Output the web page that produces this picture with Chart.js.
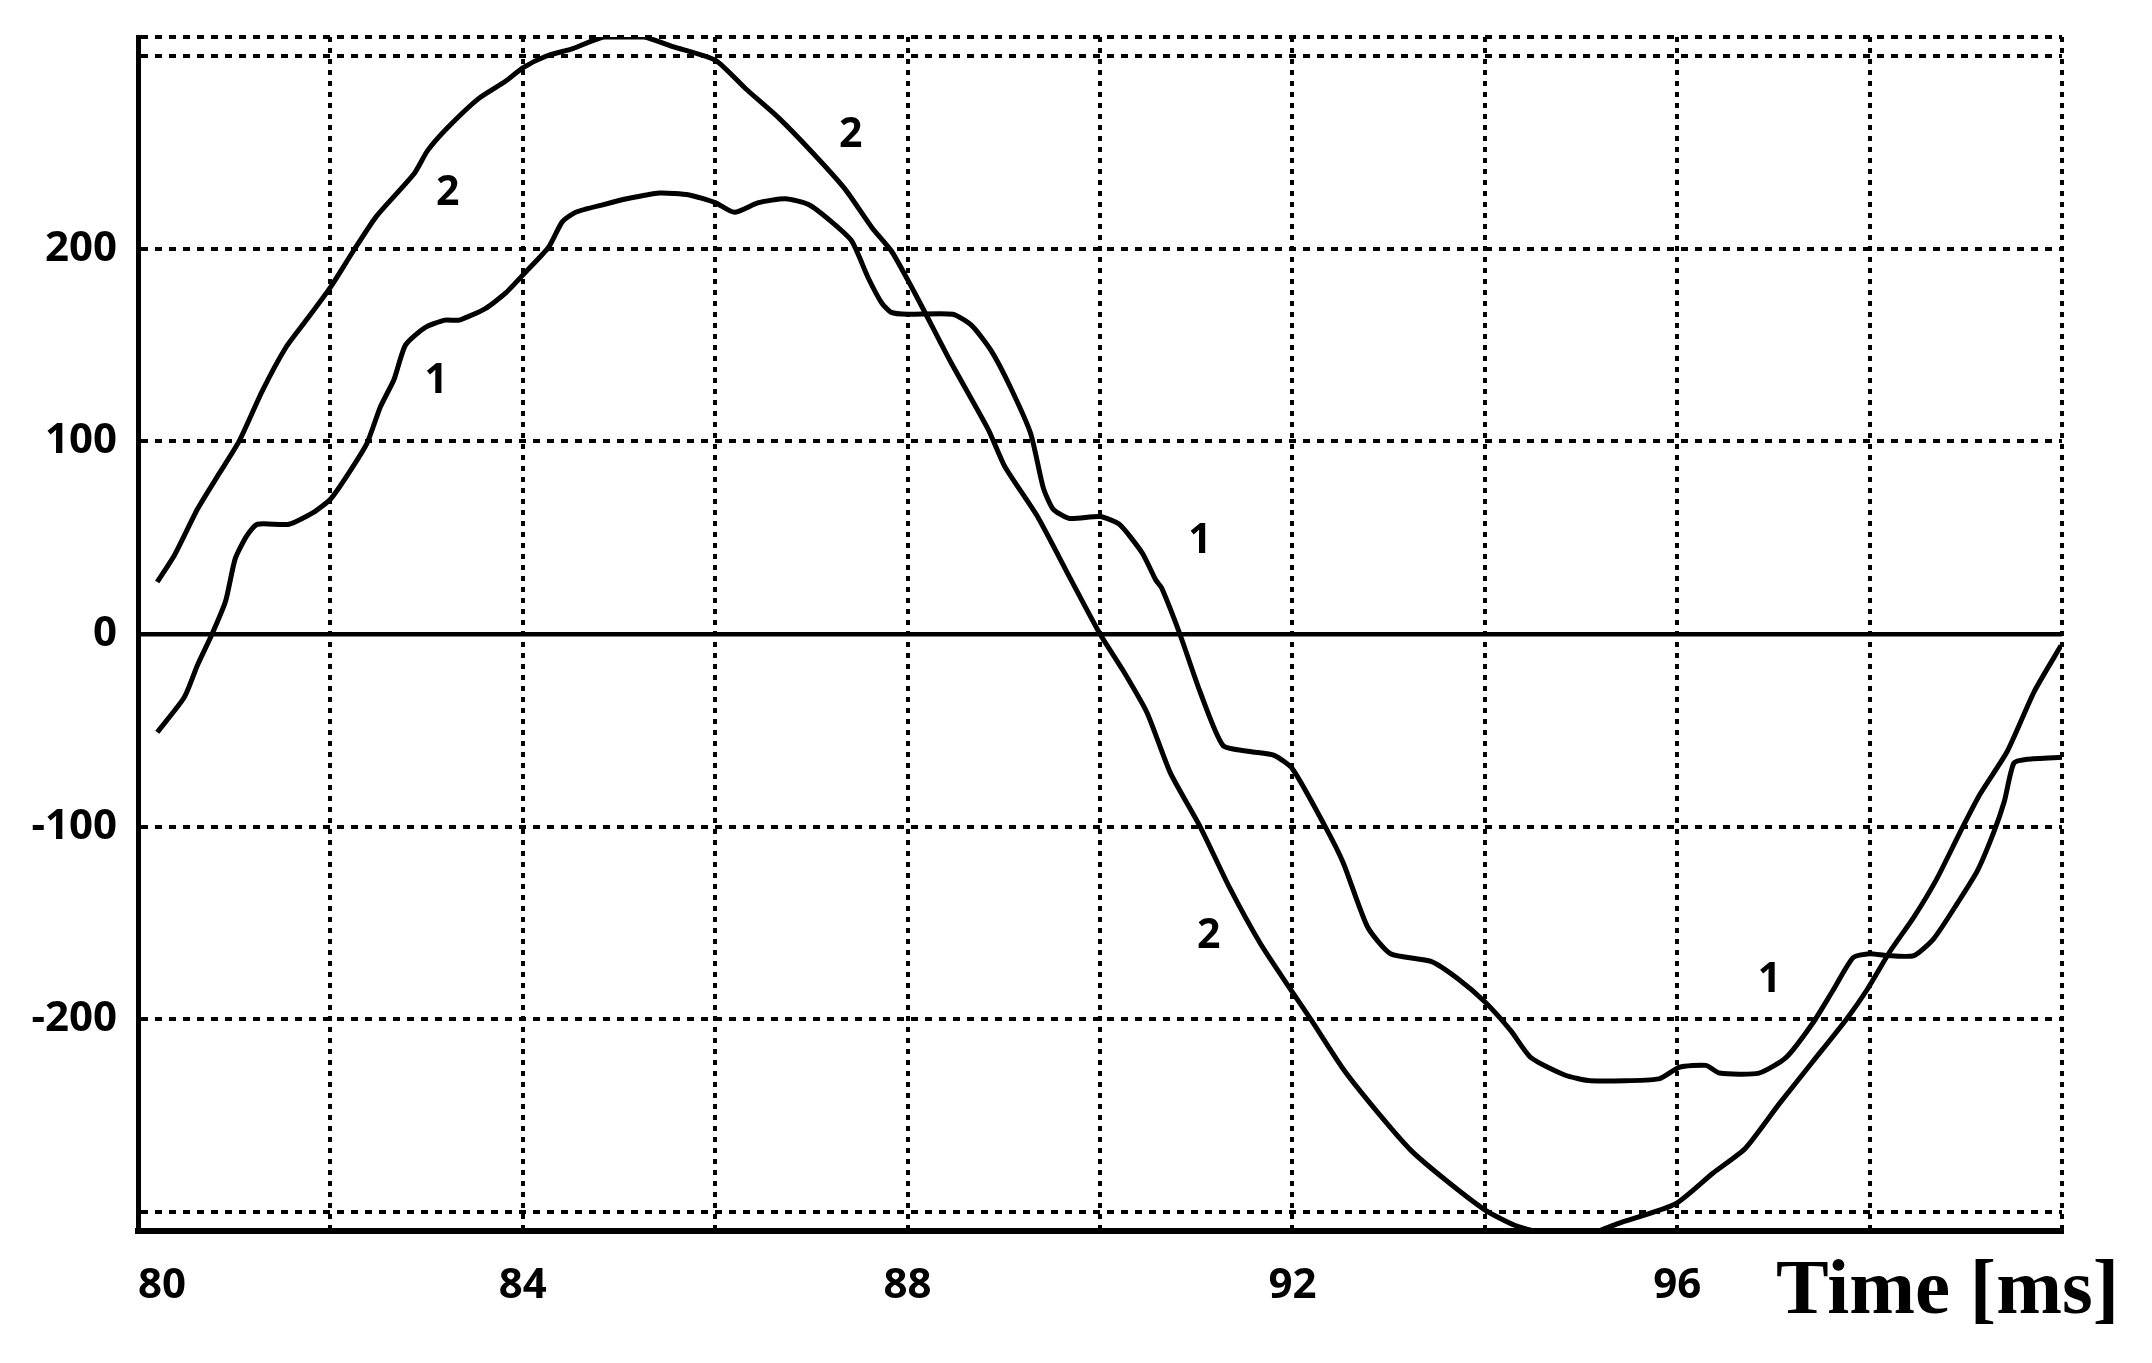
<!DOCTYPE html>
<html>
<head>
<meta charset="utf-8">
<title>Time [ms]</title>
<script src="https://cdn.jsdelivr.net/npm/chart.js@4.4.1/dist/chart.umd.min.js"></script>
<style>
  body { margin: 0; background: #fff; }
  #wrap { width: 2152px; height: 1363px; }
</style>
</head>
<body>
<div id="wrap"><canvas id="canvas_wave" width="2152" height="1363"></canvas></div>
<script>
// curve 1 - time [ms] / value
var time1 = [80.20, 80.48, 80.62, 80.77, 80.91, 81.01, 81.13, 81.24, 81.57, 81.82, 82.00, 82.17, 82.38, 82.52, 82.66, 82.78, 82.98, 83.19, 83.34, 83.61, 83.82,
    84.03, 84.27, 84.41, 84.55, 84.84, 85.08, 85.42, 85.73, 86.00, 86.20, 86.45, 86.73, 86.97, 87.21, 87.42, 87.59, 87.73, 87.83, 88.00, 88.47, 88.67,
    88.87, 89.07, 89.28, 89.41, 89.51, 89.68, 90.00, 90.20, 90.44, 90.58, 90.64, 90.83, 91.04, 91.28, 91.56, 91.81, 92.00, 92.33, 92.53, 92.78, 93.02,
    93.44, 93.72, 94.00, 94.27, 94.48, 94.83, 95.10, 95.81, 96.02, 96.30, 96.44, 96.85, 97.13, 97.41, 97.62, 97.83, 98.00, 98.18, 98.46, 98.67, 98.91,
    99.12, 99.29, 99.40, 99.50, 99.64, 100.00];
var value1 = [-51, -33, -16, 0, 17, 39, 51, 57, 57, 63, 70, 82, 99, 118, 132, 150, 159, 163, 163, 169, 177,
    188, 201, 214, 219, 223, 226, 229, 228, 224, 219, 224, 226, 223, 214, 204, 185, 172, 167, 166, 166, 160,
    147, 128, 104, 76, 65, 60, 61, 57, 42, 28, 24, 0, -30, -58, -61, -63, -70, -99, -119, -152, -166,
    -170, -179, -191, -206, -220, -229, -232, -231, -225, -224, -228, -228, -220, -202, -185, -168, -166, -167, -167, -158, -140,
    -123, -103, -87, -67, -65, -64];

// curve 2
var time2 = [80.20, 80.38, 80.62, 80.84, 81.05, 81.29, 81.54, 81.75, 82.00, 82.24, 82.48, 82.87, 83.01, 83.22, 83.54, 83.82, 84.00, 84.24, 84.52, 84.84,
    85.26, 85.56, 86.00, 86.32, 86.66, 87.01, 87.35, 87.63, 87.83, 88.00, 88.17, 88.44, 88.84, 89.01, 89.35, 89.70, 90.00, 90.24, 90.49, 90.73,
    91.04, 91.35, 91.67, 92.00, 92.19, 92.53, 92.88, 93.23, 93.58, 94.00, 94.31, 94.69, 95.00, 95.39, 95.98, 96.37, 96.71, 97.06, 97.41, 97.76,
    97.97, 98.21, 98.46, 98.70, 98.94, 99.15, 99.43, 99.71, 99.99];
var value2 = [27, 41, 65, 83, 100, 126, 149, 163, 180, 199, 217, 239, 251, 263, 278, 287, 294, 300, 304, 310,
    310, 305, 298, 283, 268, 250, 231, 211, 199, 184, 168, 142, 106, 87, 61, 28, 0, -19, -41, -72,
    -100, -132, -161, -186, -200, -226, -248, -268, -283, -299, -307, -312, -313, -306, -296, -280, -267, -244, -222, -200,
    -185, -165, -147, -127, -103, -83, -61, -30, -6];

// axis ticks
var xTicks = [80, 82, 84, 86, 88, 90, 92, 94, 96, 98, 100];
var xLabels = ['80', '', '84', '', '88', '', '92', '', '96', '', ''];
var yTicks = [-310, -300, -200, -100, 0, 100, 200, 300, 310];
var yLabels = ['', '', '-200', '-100', '0', '100', '200', '', ''];

// curve number labels: name, time, value
var tagNames = ['2', '1', '2', '1', '2', '1'];
var tagTime = [83.22, 83.10, 87.41, 91.04, 91.13, 96.96];
var tagValue = [229, 131, 259, 48, -157, -180];

function toPoints(t, v) {
    var pts = [];
    for (var i = 0; i < t.length; i++) pts.push({ x: t[i], y: v[i] });
    return pts;
}

var labelFont = '"Open Sans", "DejaVu Sans", sans-serif';

var tagPlugin = {
    id: 'tags',
    afterDatasetsDraw: function (chart) {
        var c = chart.ctx, xs = chart.scales.x, ys = chart.scales.y;
        c.save();
        c.fillStyle = '#000';
        c.font = 'bold 41px ' + labelFont;
        c.textAlign = 'center';
        c.textBaseline = 'middle';
        for (var i = 0; i < tagNames.length; i++) {
            c.fillText(tagNames[i], xs.getPixelForValue(tagTime[i]), ys.getPixelForValue(tagValue[i]));
        }
        // axis caption, sits on the tick label row
        var area = chart.chartArea;
        c.font = 'bold 79px "Liberation Serif", "Times New Roman", serif';
        c.textAlign = 'right';
        c.textBaseline = 'alphabetic';
        c.fillText('Time [ms]', area.right + 57, area.bottom + 82);
        c.restore();
    }
};

var gridDash = function (ctx) {
    return (ctx.tick && ctx.tick.value === 0) ? [] : [7, 7];
};

var ctx_wave = document.getElementById('canvas_wave').getContext('2d');
window.myLine = new Chart(ctx_wave, {
    type: 'line',
    data: {
        datasets: [{
            label: '1',
            data: toPoints(time1, value1),
            borderColor: '#000',
            borderWidth: 5,
            pointRadius: 0,
            tension: 0.2,
            fill: false
        }, {
            label: '2',
            data: toPoints(time2, value2),
            borderColor: '#000',
            borderWidth: 5,
            pointRadius: 0,
            tension: 0.2,
            fill: false
        }]
    },
    options: {
        responsive: false,
        animation: false,
        devicePixelRatio: 1,
        layout: { padding: { left: 0, top: 37, right: 90, bottom: 0 } },
        plugins: {
            legend: { display: false },
            title: { display: false },
            tooltip: { enabled: false }
        },
        scales: {
            x: {
                type: 'linear',
                min: 80,
                max: 100,
                afterBuildTicks: function (scale) {
                    scale.ticks = xTicks.map(function (v) { return { value: v }; });
                },
                afterFit: function (scale) {
                    scale.height = 132;
                    scale.paddingLeft = 0;
                    scale.paddingRight = 0;
                },
                ticks: {
                    autoSkip: false,
                    maxRotation: 0,
                    align: 'inner',
                    padding: 30,
                    color: '#000',
                    font: { family: labelFont, size: 42, weight: 'bold' },
                    callback: function (v, i) { return xLabels[i]; }
                },
                grid: { color: '#000', lineWidth: 4, drawTicks: false },
                border: { color: '#000', width: 6, dash: [5, 6] }
            },
            y: {
                type: 'linear',
                min: -310,
                max: 310,
                afterBuildTicks: function (scale) {
                    scale.ticks = yTicks.map(function (v) { return { value: v }; });
                },
                afterFit: function (scale) {
                    scale.width = 138;
                    scale.paddingTop = 0;
                    scale.paddingBottom = 0;
                },
                ticks: {
                    autoSkip: false,
                    padding: 21,
                    color: '#000',
                    font: { family: labelFont, size: 42, weight: 'bold' },
                    callback: function (v, i) { return yLabels[i]; }
                },
                grid: {
                    color: '#000',
                    lineWidth: function (ctx) { return (ctx.tick && ctx.tick.value === 0) ? 4.5 : 4; },
                    drawTicks: false
                },
                border: { color: '#000', width: 5, dash: gridDash }
            }
        }
    },
    plugins: [tagPlugin]
});
</script>
</body>
</html>
